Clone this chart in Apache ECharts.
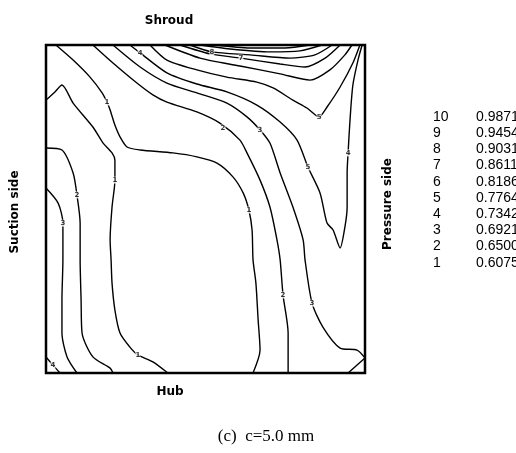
<!DOCTYPE html>
<html><head><meta charset="utf-8">
<script src="https://cdn.jsdelivr.net/npm/echarts@6/dist/echarts.min.js"></script>
<style>html,body{margin:0;padding:0;background:#fff}#c{width:516px;height:453px}</style>
</head><body><div id="c"></div>
<script>
// Contour polylines (x: 0 = suction side .. 100 = pressure side, y: 0 = hub .. 100 = shroud)
const c1a = [[3.1,100],[8.5,95.4],[13.8,90.2],[17.6,85.4],[19.1,82.6],[20.1,80.2],[21.6,75.6],[23.2,72.0],[25.4,68.9],[29.5,68.0],[39.8,67.1],[47.3,65.9],[53.6,64.0],[58.6,59.8],[61.8,54.9],[63.6,49.7],[64.6,43.6],[64.9,34.5],[65.8,27.4],[66.5,16.2],[67.1,7.0],[64.9,0]];
const c1b = [[0,83.2],[2.8,85.7],[5.0,87.8],[8.5,82.3],[14.7,75.0],[17.9,70.1],[20.7,67.1],[21.6,64.9],[21.6,58.8],[20.7,50.6],[20.1,40.6],[20.4,34.5],[20.7,27.4],[21.6,19.2],[23.2,12.2],[26.3,7.9],[28.8,5.5],[33.5,3.4],[38.2,0]];
const c2l = [[0,68.6],[5.0,68.0],[8.5,61.0],[9.7,54.3],[10.7,45.7],[10.7,34.5],[11.0,22.3],[11.3,12.2],[14.7,4.9],[20.1,1.5],[21.0,0]];
const c3l = [[0,56.4],[3.8,51.8],[5.3,45.7],[5.3,34.5],[5.0,22.3],[5.0,12.2],[6.6,4.9],[9.7,0]];
const c4l = [[0,4.9],[2.2,2.4],[4.4,0]];
const c2r = [[14.7,100],[21.0,94.5],[28.5,88.4],[33.5,84.8],[37.9,82.6],[47.3,79.6],[54.5,76.2],[60.8,71.0],[63.0,67.1],[67.1,58.8],[70.2,50.6],[72.4,40.6],[73.4,34.5],[74.3,23.8],[75.9,12.2],[75.9,0]];
const c3r = [[21.0,100],[29.5,93.3],[37.9,88.4],[47.3,85.4],[56.7,82.3],[63.0,78.1],[67.1,74.1],[70.2,70.1],[73.4,61.0],[77.4,50.6],[80.6,40.6],[81.2,34.5],[83.4,21.3],[86.8,14.0],[92.2,7.6],[97.5,7.0],[100,4.6]];
const c3c = [[94.7,0],[100,4.6]];
const c4r = [[26.3,100],[29.5,97.6],[37.9,91.5],[47.3,88.1],[56.7,85.7],[66.1,81.7],[73.4,76.5],[78.7,71.0],[82.1,62.8],[85.9,54.9],[88.1,45.7],[90.0,43.6],[92.2,38.1],[93.7,44.5],[94.4,50.6],[94.4,61.0],[94.7,67.1],[95.3,77.1],[96.2,87.8],[97.8,95.4],[99.1,100]];
const c5 = [[32.6,100],[37.9,95.4],[47.3,92.4],[56.7,90.2],[66.1,88.7],[71.2,86.9],[77.4,83.2],[81.8,80.8],[85.6,78.1],[88.1,81.1],[92.2,87.2],[96.2,94.5],[98.4,100]];
const c6 = [[37.3,100],[48.3,96.0],[60.8,93.6],[73.4,91.2],[82.8,89.3],[89.0,92.4],[93.7,97.0],[95.9,100]];
const c7 = [[42.0,100],[51.4,97.3],[61.1,96.0],[73.4,94.2],[81.2,93.3],[87.5,96.0],[92.2,100]];
const c8 = [[45.1,100],[52.0,97.9],[64.0,97.0],[76.5,96.0],[84.3,97.0],[89.7,100]];
const c9 = [[48.3,100],[57.7,98.8],[70.2,97.9],[79.6,98.2],[86.5,100]];
const c10 = [[53.0,100],[64.0,99.1],[74.9,99.1],[82.8,100]];
const contours = [c1a,c1b,c2l,c3l,c4l,c2r,c3r,c3c,c4r,c5,c6,c7,c8,c9,c10];

// In-line contour labels [x, y, level]
const contourLabels = [[19.1,82.6,'1'],[63.6,49.7,'1'],[21.6,58.8,'1'],[28.8,5.5,'1'],[9.7,54.3,'2'],[5.3,45.7,'3'],[2.2,2.4,'4'],[55.5,74.7,'2'],[74.3,23.8,'2'],[67.1,74.1,'3'],[83.4,21.3,'3'],[29.5,97.6,'4'],[94.7,67.1,'4'],[82.1,62.8,'5'],[85.6,78.1,'5'],[52.0,97.9,'8'],[61.1,96.0,'7']];

// Level table
const levelIds = ['10','9','8','7','6','5','4','3','2','1'];
const levelValues = ['0.9871','0.9454','0.9031','0.8611','0.8186','0.7764','0.7342','0.6921','0.6500','0.6075'];

const chart = echarts.init(document.getElementById('c'), null, {renderer:'canvas'});
const series = contours.map(d => ({
  type:'line', data:d, showSymbol:false, symbol:'none', smooth:0.25,
  lineStyle:{color:'#000', width:1.4}, silent:true, animation:false, z:2
}));
series.push({
  type:'scatter', data:contourLabels, symbol:'rect', symbolSize:[5,7],
  itemStyle:{color:'#fff'}, silent:true, animation:false, z:5,
  label:{show:true, position:'inside', formatter:p=>p.value[2], fontSize:7, fontWeight:'bold', color:'#000', fontFamily:'DejaVu Sans'}
});

const sideFont = 'bold 12px "DejaVu Sans"';
const graphics = [
  {type:'text', x:169, y:21, style:{text:'Shroud', font:sideFont, fill:'#000', textAlign:'center', textVerticalAlign:'middle'}},
  {type:'text', x:170, y:392, style:{text:'Hub', font:sideFont, fill:'#000', textAlign:'center', textVerticalAlign:'middle'}},
  {type:'text', x:15, y:212, rotation:Math.PI/2, style:{text:'Suction side', font:sideFont, fill:'#000', textAlign:'center', textVerticalAlign:'middle'}},
  {type:'text', x:388, y:204, rotation:Math.PI/2, style:{text:'Pressure side', font:sideFont, fill:'#000', textAlign:'center', textVerticalAlign:'middle'}},
  {type:'text', x:266, y:437, style:{text:'(c)  c=5.0 mm', font:'17px "Liberation Serif"', fill:'#000', textAlign:'center', textVerticalAlign:'middle'}}
];
levelIds.forEach((id,i)=>{
  graphics.push({type:'text', x:433, y:117+i*16.2, style:{text:id, font:'14px "Liberation Sans"', fill:'#000', textVerticalAlign:'middle'}});
  graphics.push({type:'text', x:476, y:117+i*16.2, style:{text:levelValues[i], font:'14px "Liberation Sans"', fill:'#000', textVerticalAlign:'middle'}});
});

chart.setOption({
  animation:false,
  grid:{left:46, top:45, width:319, height:328, show:true, borderColor:'#000', borderWidth:2.5, backgroundColor:'transparent'},
  xAxis:{type:'value', min:0, max:100, axisLine:{show:false}, axisTick:{show:false}, axisLabel:{show:false}, splitLine:{show:false}},
  yAxis:{type:'value', min:0, max:100, axisLine:{show:false}, axisTick:{show:false}, axisLabel:{show:false}, splitLine:{show:false}},
  series:series,
  graphic:graphics
});
</script></body></html>
